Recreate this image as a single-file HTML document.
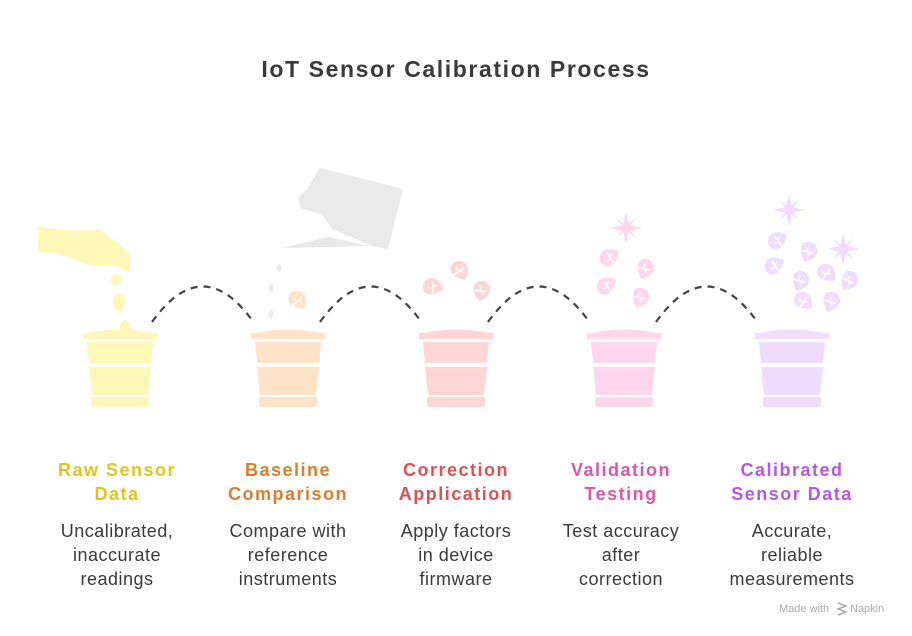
<!DOCTYPE html>
<html><head><meta charset="utf-8"><style>
html,body{margin:0;padding:0;background:#fff;}
svg{display:block;}
text{font-family:"Liberation Sans",sans-serif;}
</style></head><body>
<svg width="912" height="636" viewBox="0 0 912 636" xmlns="http://www.w3.org/2000/svg">
<defs>
<g id="pot">
  <path d="M88 333 Q120 326 152 333 Z"/>
  <rect x="83" y="333" width="74" height="6"/>
  <polygon points="87,342 153,342 151,363 89,363"/>
  <polygon points="89,367 151,367 148,395 92,395"/>
  <rect x="91" y="397" width="58" height="10" rx="2"/>
</g>
<g id="leaf">
  <path d="M0 -9 C8 -9 10 0 9 7 C2 9 -8 7 -9 0 C-9 -6 -5 -9 0 -9 Z"/>
  <path d="M-3 6 L4 -4 M0 2 L-4 -2 M1 0 L5 1" stroke="#fff" stroke-width="1.6" fill="none"/>
</g>
<g id="flower">
  <path d="M0 -16 L3 -3 L16 0 L3 3 L0 16 L-3 3 L-16 0 L-3 -3 Z"/>
  <path d="M11 -11 L2 0 L11 11 L0 2 L-11 11 L-2 0 L-11 -11 L0 -2 Z"/>
</g>
</defs>

<text x="456" y="77" text-anchor="middle" font-size="23" font-weight="bold" fill="#3a3a3a" letter-spacing="1.6">IoT Sensor Calibration Process</text>

<g fill="none" stroke="#444" stroke-width="2.2" stroke-dasharray="7,6">
  <path d="M152 322 Q202 252 252 320"/>
  <path d="M320 322 Q370 252 420 320"/>
  <path d="M488 322 Q538 252 588 320"/>
  <path d="M656 322 Q706 252 756 320"/>
</g>

<g fill="#fff7b8">
  <use href="#pot"/>
  <path d="M38 226 Q60 232 100 230 Q115 240 128 252 Q132 265 128 272 Q120 266 110 265 Q95 268 80 262 Q62 253 38 252 Z"/>
  <ellipse cx="119" cy="302" rx="6" ry="9"/>
  <ellipse cx="125" cy="327" rx="5" ry="7"/>
  <ellipse cx="116" cy="280" rx="5" ry="6"/>
</g>
<g fill="#ffe3c8"><use href="#pot" transform="translate(168 0)"/></g>
<use href="#leaf" transform="translate(297 300) rotate(10)" fill="#ffe3c8"/>
<g fill="#e9e9e9">
  <polygon points="320,168 403,189 388,249 372,246 332,229 322,214 300,208 298,198 308,188"/>
  <polygon points="282,248 328,237 370,246"/>
  <ellipse cx="279" cy="268" rx="2.5" ry="4"/>
  <ellipse cx="271" cy="288" rx="2.5" ry="4"/>
  <ellipse cx="271" cy="314" rx="2.5" ry="4"/>
</g>
<g fill="#ffd5d5">
  <use href="#pot" transform="translate(336 0)"/>
  <use href="#leaf" transform="translate(432 287) rotate(-30)"/>
  <use href="#leaf" transform="translate(459 270) rotate(20)"/>
  <use href="#leaf" transform="translate(481 290) rotate(60)"/>
</g>
<g fill="#ffd6ee">
  <use href="#pot" transform="translate(504 0)"/>
  <use href="#flower" transform="translate(626 228)"/>
  <use href="#leaf" transform="translate(609 258) rotate(-70)"/>
  <use href="#leaf" transform="translate(645 268) rotate(70)"/>
  <use href="#leaf" transform="translate(606 286) rotate(-70)"/>
  <use href="#leaf" transform="translate(640 297) rotate(70)"/>
</g>
<g fill="#f0dcff">
  <use href="#pot" transform="translate(672 0)"/>
  <use href="#flower" transform="translate(789 210)"/>
  <use href="#flower" transform="translate(843 249)"/>
  <use href="#leaf" transform="translate(777 241) rotate(-70)"/>
  <use href="#leaf" transform="translate(808 251) rotate(70)"/>
  <use href="#leaf" transform="translate(774 266) rotate(-70)"/>
  <use href="#leaf" transform="translate(800 280) rotate(70)"/>
  <use href="#leaf" transform="translate(826 273) rotate(0)"/>
  <use href="#leaf" transform="translate(849 280) rotate(80)"/>
  <use href="#leaf" transform="translate(803 301) rotate(0)"/>
  <use href="#leaf" transform="translate(831 301) rotate(70)"/>
</g>

<g font-size="18" font-weight="bold" text-anchor="middle" letter-spacing="1.5">
  <text x="117" y="476" fill="#e0c51c">Raw Sensor</text>
  <text x="117" y="500" fill="#e0c51c">Data</text>
  <text x="288" y="476" fill="#e07b2c">Baseline</text>
  <text x="288" y="500" fill="#e07b2c">Comparison</text>
  <text x="456" y="476" fill="#e05050">Correction</text>
  <text x="456" y="500" fill="#e05050">Application</text>
  <text x="621" y="476" fill="#e055a5">Validation</text>
  <text x="621" y="500" fill="#e055a5">Testing</text>
  <text x="792" y="476" fill="#b755e6">Calibrated</text>
  <text x="792" y="500" fill="#b755e6">Sensor Data</text>
</g>
<g font-size="18" text-anchor="middle" fill="#3a3a3a" letter-spacing="0.5">
  <text x="117" y="537">Uncalibrated,</text>
  <text x="117" y="561">inaccurate</text>
  <text x="117" y="585">readings</text>
  <text x="288" y="537">Compare with</text>
  <text x="288" y="561">reference</text>
  <text x="288" y="585">instruments</text>
  <text x="456" y="537">Apply factors</text>
  <text x="456" y="561">in device</text>
  <text x="456" y="585">firmware</text>
  <text x="621" y="537">Test accuracy</text>
  <text x="621" y="561">after</text>
  <text x="621" y="585">correction</text>
  <text x="792" y="537">Accurate,</text>
  <text x="792" y="561">reliable</text>
  <text x="792" y="585">measurements</text>
</g>

<text x="779" y="612" font-size="11" fill="#aaa">Made with</text>
<path d="M838 603 L846 606 L838 609 L846 612 L838 615" stroke="#aaa" stroke-width="1.5" fill="none"/>
<text x="850" y="612" font-size="11" fill="#aaa">Napkin</text>
</svg>
</body></html>
